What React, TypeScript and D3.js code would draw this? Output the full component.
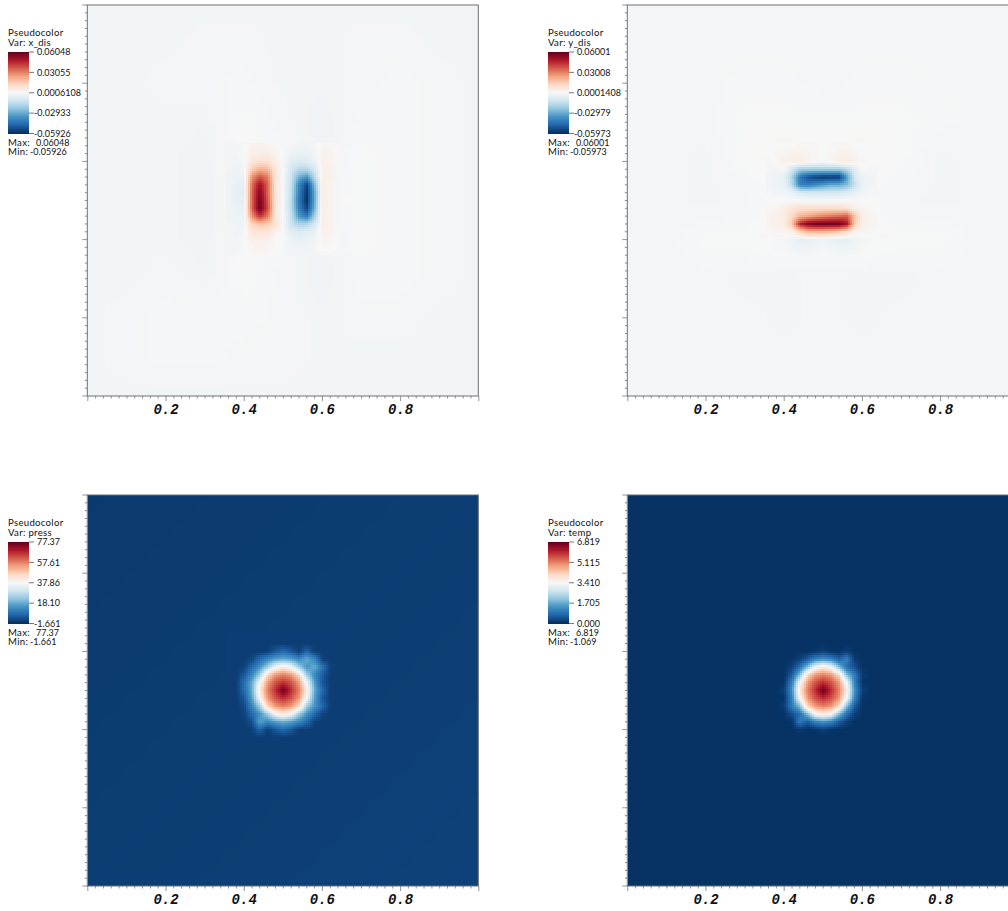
import React from "react";
import * as d3 from "d3";

const xTickLabels = [0.2, 0.4, 0.6, 0.8];
const tickValues = d3.range(0, 51).map((i) => i * 0.02);
const fineAxis = [0.36, 0.38, 0.4, 0.42, 0.44, 0.46, 0.48, 0.5, 0.52, 0.54, 0.56, 0.58, 0.6, 0.62, 0.64];
const coarseAxis = [0, 0.1, 0.2, 0.3, 0.4, 0.5, 0.6, 0.7, 0.8, 0.9, 1];
const rdbuStops = ["#053061", "#2166ac", "#4393c3", "#92c5de", "#d1e5f0", "#f7f7f7", "#fddbc7", "#f4a582", "#d6604d", "#b2182b", "#67001f"];

// All in units of 1e-3
const xDisFine = [
  [-1, -1, 0, 3, 3, 3, 1, 0, -1, -2, -2, -1, 2, 2, 1],
  [-1, -1, 0, 4, 5, 5, 2, 0, -3, -4, -4, -2, 3, 3, 1],
  [-1, -2, 0, 8, 10, 10, 5, 0, -6, -8, -7, -3, 4, 3, 1],
  [-1, -3, -1, 15, 22, 20, 8, 0, -10, -16, -16, -10, 4, 4, 1],
  [-2, -3, -3, 28, 38, 32, 8, 0, -12, -28, -35, -16, 4, 4, 1],
  [-2, -4, -5, 34, 52, 36, 8, 0, -13, -38, -55, -26, 4, 3, 1],
  [-2, -4, -6, 36, 56, 36, 8, 0, -14, -40, -58, -30, 4, 3, 1],
  [-2, -4, -5, 36, 59, 38, 8, 0, -15, -42, -59, -30, 5, 3, 1],
  [-2, -3, -4, 36, 60, 40, 8, 0, -15, -40, -55, -28, 5, 3, 1],
  [-2, -3, -3, 28, 44, 32, 8, 0, -13, -34, -42, -20, 4, 3, 1],
  [-1, -2, -2, 14, 18, 16, 10, 0, -12, -18, -18, -10, 4, 3, 1],
  [-1, -2, -1, 8, 8, 8, 3, 0, -6, -8, -6, -3, 3, 3, 1],
  [-1, -1, 0, 4, 4, 4, 1, 0, -3, -4, -3, -2, 2, 2, 0],
  [-1, -1, 0, 2, 3, 2, 1, 0, -2, -2, -2, -1, 1, 1, 0],
  [-1, -1, 0, 1, 2, 1, 0, 0, -1, -1, -1, -1, 0, 0, 0],
];
const xDisCoarse = [
  [-1, -1, -1, -1, -1, -1, -1, -1, -1, -1, -1],
  [-1, -1, -1, -0.5, -0.5, -1, -1, -0.5, -0.5, -1, -1],
  [-1, -1, -0.5, -0.5, 0, -1, -1, -0.5, 0, -0.5, -1],
  [-1, -1, -1, -1, 0.5, -0.5, -1.5, 0, 0, -0.5, -1],
  [-1, -1, -1, -1.5, 1, 0, -1.5, 0.5, 0, -0.5, -1],
  [-1, -1, -1, -1.5, 0, 0, 0, 0.5, 0, -0.5, -1],
  [-1, -1, -1, -1.5, 1, 0, -1.5, 0.5, 0, -0.5, -1],
  [-1, -1, -0.5, -1, 0.5, -0.5, -1.5, 0, 0, -0.5, -1],
  [-1, -0.5, 0, 0, 0, -0.5, -1, -0.5, -0.5, -1, -1],
  [-1, -0.5, 0, 0, -0.5, -0.5, -1, -1, -1, -1, -1],
  [-1, -1, -1, -1, -1, -1, -1, -1, -1, -1, -1],
];
const yDisFine = [
  [0, 0, 0, 0, 1, 1, 1, 0, 1, 1, 1, 0, 0, 0, 0],
  [0, 1, 2, 3, 3, 2, 1, 0, 1, 3, 3, 2, 1, 0, 0],
  [-1, 1, 3, 4, 5, 3, 1, 0, 2, 4, 5, 3, 1, 0, 0],
  [-1, -2, -1, -10, -20, -20, -20, -20, -20, -20, -16, -8, 0, -1, -1],
  [-2, -3, -5, -18, -42, -52, -56, -58, -58, -58, -34, -10, -4, -2, -1],
  [-2, -3, -4, -16, -40, -42, -38, -34, -30, -30, -26, -14, -4, -2, -1],
  [-1, -2, -2, -4, -8, -10, -10, -10, -10, -10, -8, -5, -2, -1, -1],
  [0, 0, 0, 0, 0, 0, 0, 0, 0, 0, 0, 0, 0, 0, 0],
  [1, 2, 4, 8, 10, 10, 10, 10, 10, 10, 9, 4, 2, 1, 0],
  [2, 3, 5, 12, 20, 24, 27, 30, 32, 34, 36, 18, 4, 2, 1],
  [2, 3, 4, 16, 46, 55, 58, 58, 58, 58, 50, 16, 4, 2, 1],
  [1, 2, 2, 3, 12, 20, 20, 20, 18, 16, 10, 3, 1, 1, 0],
  [0, -1, -1, -3, -5, -5, -4, -3, -4, -5, -5, -3, -1, -1, 0],
  [0, -1, -1, -2, -3, -3, -2, -1, -2, -3, -3, -2, -1, 0, 0],
  [0, 0, 0, -1, -1, -1, -1, 0, -1, -1, -1, -1, 0, 0, 0],
];
const yDisCoarse = [
  [-1, -1, -1, -1, -1, -1, -1, -1, -1, -1, -1],
  [-1, -1, -1, -1, -1, -1, -1, -1, -1, -1, -1],
  [-1, -1, -1, -0.5, -0.5, -1, -0.5, -0.5, -1, -1, -1],
  [-1, -1, -1, 0, 0, 0, 0, 0, -0.5, -1, -1],
  [-1, -1, -1.5, 0, 1, 0, 1, 0, -1.5, -1, -1],
  [-1, -1, -1.5, -1, 0, 0, 0, -1, -1.5, -1, -1],
  [-1, -1, 0, 0, 1, 0, 1, 0, 0, -1, -1],
  [-1, -1, -1, -1.5, -1.5, -1, -1.5, -1.5, -1, -1, -1],
  [-1, -1, -1, -1, -1.5, -1, -1.5, -1, -1, -1, -1],
  [-1, -1, -1, -1, -1, -1, -1, -1, -1, -1, -1],
  [-1, -1, -1, -1, -1, -1, -1, -1, -1, -1, -1],
];
const pressFine = [
  [0.3, 0.3, 0.3, 0.3, 0.3, 0.3, 0.3, 0.3, 0.3, 0.3, 0.3, 0.3, 0.3, 0.3, 0.3],
  [0.3, 0.3, 0.3, 0.3, 0.3, 0.3, 0.3, 0.3, 0.3, 0.3, 0.3, 0.3, 0.3, 0.3, 0.3],
  [0.3, 0.3, 0.3, 0.3, 0.3, 0.5, 4, 7, 4, 0.5, 6, 0.5, 0.3, 0.3, 0.3],
  [0.3, 0.3, 0.3, 1.5, 7, 12, 16, 18, 16, 12, 18, 12, 1, 0.3, 0.3],
  [0.3, 0.3, 1, 7, 14, 24, 37, 42, 37, 24, 14, 18, 9, 1, 0.3],
  [0.3, 0.3, 4, 12, 24, 46, 55, 58, 55, 46, 24, 12, 5, 0.3, 0.3],
  [0.3, 0.3, 8, 18, 37, 55, 63, 67, 63, 55, 37, 16, 4, 0.3, 0.3],
  [0.3, 0.3, 7, 18, 42, 58, 67, 77, 67, 58, 42, 18, 7, 0.3, 0.3],
  [0.3, 0.3, 4, 16, 37, 55, 63, 67, 63, 55, 37, 16, 4, 0.3, 0.3],
  [0.3, 0.3, 2, 12, 24, 46, 55, 58, 55, 46, 24, 14, 7, 0.3, 0.3],
  [0.3, 0.3, 1, 7, 14, 24, 37, 42, 37, 24, 14, 7, 1, 0.3, 0.3],
  [0.3, 0.3, 0.5, 3, 16, 12, 16, 18, 16, 12, 7, 1, 0.3, 0.3, 0.3],
  [0.3, 0.3, 0.3, 0.5, 6, 0.5, 4, 7, 4, 0.5, 0.5, 0.3, 0.3, 0.3, 0.3],
  [0.3, 0.3, 0.3, 0.3, 0.3, 0.3, 0.3, 0.3, 0.3, 0.3, 0.3, 0.3, 0.3, 0.3, 0.3],
  [0.3, 0.3, 0.3, 0.3, 0.3, 0.3, 0.3, 0.3, 0.3, 0.3, 0.3, 0.3, 0.3, 0.3, 0.3],
];
const pressCoarse = [
  [-0.3, -0.24, -0.18, -0.12, -0.06, 0, 0.06, 0.12, 0.18, 0.24, 0.3],
  [-0.24, -0.18, -0.12, -0.06, 0, 0.06, 0.12, 0.18, 0.24, 0.3, 0.36],
  [-0.18, -0.12, -0.06, 0, 0.06, 0.12, 0.18, 0.24, 0.3, 0.36, 0.42],
  [-0.12, -0.06, 0, 0.06, 0.12, 0.18, 0.24, 0.3, 0.36, 0.42, 0.48],
  [-0.06, 0, 0.06, 0.12, 0.18, 0.24, 0.3, 0.36, 0.42, 0.48, 0.54],
  [0, 0.06, 0.12, 0.18, 0.24, 0.3, 0.36, 0.42, 0.48, 0.54, 0.6],
  [0.06, 0.12, 0.18, 0.24, 0.3, 0.36, 0.42, 0.48, 0.54, 0.6, 0.66],
  [0.12, 0.18, 0.24, 0.3, 0.36, 0.42, 0.48, 0.54, 0.6, 0.66, 0.72],
  [0.18, 0.24, 0.3, 0.36, 0.42, 0.48, 0.54, 0.6, 0.66, 0.72, 0.78],
  [0.24, 0.3, 0.36, 0.42, 0.48, 0.54, 0.6, 0.66, 0.72, 0.78, 0.84],
  [0.3, 0.36, 0.42, 0.48, 0.54, 0.6, 0.66, 0.72, 0.78, 0.84, 0.9],
];
const tempFine = [
  [0.03, 0.03, 0.03, 0.03, 0.03, 0.03, 0.03, 0.03, 0.03, 0.03, 0.03, 0.03, 0.03, 0.03, 0.03],
  [0.03, 0.03, 0.03, 0.03, 0.03, 0.03, 0.03, 0.03, 0.03, 0.03, 0.03, 0.03, 0.03, 0.03, 0.03],
  [0.03, 0.03, 0.03, 0.03, 0.03, 0.03, 0.05, 0.2, 0.05, 0.03, 0.15, 0.03, 0.03, 0.03, 0.03],
  [0.03, 0.03, 0.03, 0.05, 0.2, 0.55, 1.1, 1.3, 1.1, 0.6, 1.1, 0.15, 0.03, 0.03, 0.03],
  [0.03, 0.03, 0.03, 0.2, 0.8, 1.95, 3.35, 3.75, 3.35, 1.95, 0.8, 0.4, 0.03, 0.03, 0.03],
  [0.03, 0.03, 0.03, 0.55, 1.95, 4.1, 4.9, 5.15, 4.9, 4.1, 1.95, 1.0, 0.15, 0.03, 0.03],
  [0.03, 0.03, 0.05, 1.1, 3.35, 4.9, 5.6, 5.95, 5.6, 4.9, 3.35, 1.1, 0.05, 0.03, 0.03],
  [0.03, 0.03, 0.2, 1.3, 3.75, 5.15, 5.95, 6.82, 5.95, 5.15, 3.75, 1.3, 0.2, 0.03, 0.03],
  [0.03, 0.03, 0.05, 1.1, 3.35, 4.9, 5.6, 5.95, 5.6, 4.9, 3.35, 1.1, 0.05, 0.03, 0.03],
  [0.03, 0.03, 0.15, 1.0, 1.95, 4.1, 4.9, 5.15, 4.9, 4.1, 1.95, 0.55, 0.03, 0.03, 0.03],
  [0.03, 0.03, 0.03, 0.4, 0.8, 1.95, 3.35, 3.75, 3.35, 1.95, 0.8, 0.2, 0.03, 0.03, 0.03],
  [0.03, 0.03, 0.03, 0.05, 1.0, 0.55, 1.1, 1.3, 1.1, 0.55, 0.2, 0.03, 0.03, 0.03, 0.03],
  [0.03, 0.03, 0.03, 0.03, 0.1, 0.03, 0.05, 0.2, 0.05, 0.03, 0.03, 0.03, 0.03, 0.03, 0.03],
  [0.03, 0.03, 0.03, 0.03, 0.03, 0.03, 0.03, 0.03, 0.03, 0.03, 0.03, 0.03, 0.03, 0.03, 0.03],
  [0.03, 0.03, 0.03, 0.03, 0.03, 0.03, 0.03, 0.03, 0.03, 0.03, 0.03, 0.03, 0.03, 0.03, 0.03],
];
const tempCoarse = [
  [0.03, 0.03, 0.03],
  [0.03, 0.03, 0.03],
  [0.03, 0.03, 0.03],
];
const tempAxis = [0, 0.5, 1];

const xDisLabels = ["0.06048", "0.03055", "0.0006108", "-0.02933", "-0.05926"];
const yDisLabels = ["0.06001", "0.03008", "0.0001408", "-0.02979", "-0.05973"];
const pressLabels = ["77.37", "57.61", "37.86", "18.10", "-1.661"];
const tempLabels = ["6.819", "5.115", "3.410", "1.705", "0.000"];

const FONT = "Lato, 'Noto Sans', sans-serif";
const PLOT_SIZE = 391;

const colorT = d3
  .scaleLinear<string>()
  .domain(rdbuStops.map((_, i) => i / 10))
  .range(rdbuStops)
  .interpolate(d3.interpolateRgb)
  .clamp(true);

function sample(axis: number[], table: number[][], x: number, y: number) {
  const fy = 1 - y; // table rows run from the top of the plot
  const n = axis.length - 1;
  const cx = Math.min(n - 1, Math.max(0, d3.bisectRight(axis, x) - 1));
  const cy = Math.min(n - 1, Math.max(0, d3.bisectRight(axis, fy) - 1));
  const u = (x - axis[cx]) / (axis[cx + 1] - axis[cx]);
  const v = (fy - axis[cy]) / (axis[cy + 1] - axis[cy]);
  const top = table[cy][cx] * (1 - u) + table[cy][cx + 1] * u;
  const bot = table[cy + 1][cx] * (1 - u) + table[cy + 1][cx + 1] * u;
  return top * (1 - v) + bot * v;
}

type PanelProps = {
  left: number;
  top: number;
  variable: string;
  labels: string[];
  max: string;
  min: string;
  domain: [number, number];
  coarse: number[][];
  coarseAxisValues: number[];
  fine: number[][];
};

function Panel({ left, top, variable, labels, max, min, domain, coarse, coarseAxisValues, fine }: PanelProps) {
  const x = d3.scaleLinear().domain([0, 1]).range([left + 0.8, left + 0.8 + PLOT_SIZE]);
  const y = d3.scaleLinear().domain([0, 1]).range([top + PLOT_SIZE, top]);
  const toT = d3.scaleLinear().domain(domain).range([0, 1]);
  const fineLo = fineAxis[0];
  const fineHi = fineAxis[fineAxis.length - 1];
  const valueAt = (u: number, v: number) => {
    const inFine = u >= fineLo && u <= fineHi && v >= fineLo && v <= fineHi;
    return inFine ? sample(fineAxis, fine, u, v) : sample(coarseAxisValues, coarse, u, v);
  };
  const tiles: React.ReactElement[] = [];
  const paint = (px: number, py: number, size: number, key: string) => {
    const u = x.invert(px + size / 2);
    const v = y.invert(py + size / 2);
    tiles.push(<rect key={key} x={px} y={py} width={size} height={size} fill={colorT(toT(valueAt(u, v)))} />);
  };
  const x0 = Math.round(x(0));
  const y0 = top;
  const outer = 6;
  for (let i = 0; i * outer < PLOT_SIZE; i++) {
    for (let j = 0; j * outer < PLOT_SIZE; j++) {
      paint(x0 + i * outer, y0 + j * outer, outer, `o${i}-${j}`);
    }
  }
  const fx0 = Math.floor(x(fineLo));
  const fx1 = Math.ceil(x(fineHi));
  const fy0 = Math.floor(y(fineHi));
  const fy1 = Math.ceil(y(fineLo));
  for (let px = fx0; px < fx1; px += 2) {
    for (let py = fy0; py < fy1; py += 2) paint(px, py, 2, `f${px}-${py}`);
  }

  const barX = left - 79;
  const barTop = top + 47;
  const barH = 81.5;
  const barRows = d3.range(0, Math.ceil(barH));
  const ticks = labels.map((_, i) => barTop + (i * barH) / 4);

  return (
    <g>
      <clipPath id={`clip-${variable}`}>
        <rect x={x(0) - 0.5} y={top} width={PLOT_SIZE} height={PLOT_SIZE} />
      </clipPath>
      <g clipPath={`url(#clip-${variable})`} shapeRendering="crispEdges">
        {tiles}
      </g>
      <rect x={x(0) - 0.5} y={top} width={PLOT_SIZE} height={PLOT_SIZE} fill="none" stroke="#6f6f6f" strokeWidth={1} />
      {tickValues.map((t, i) => {
        const major = i % 10 === 0;
        return (
          <g key={t} stroke="#777" strokeWidth={0.8}>
            <line x1={x(t)} x2={x(t)} y1={top + PLOT_SIZE} y2={top + PLOT_SIZE + (major ? 5 : 2.5)} />
            <line x1={x(0) - 0.5} x2={x(0) - 0.5 - (major ? 5 : 2.5)} y1={y(t)} y2={y(t)} />
          </g>
        );
      })}
      {xTickLabels.map((t) => (
        <text
          key={t}
          x={x(t)}
          y={top + PLOT_SIZE + 18}
          textAnchor="middle"
          fontFamily="'Liberation Mono', monospace"
          fontWeight="bold"
          fontStyle="italic"
          fontSize={14}
          fill="#111"
        >
          {t.toFixed(1)}
        </text>
      ))}
      <g fontFamily={FONT} fontSize={9.6} letterSpacing={0.3} fill="#111">
        <text x={barX} y={top + 31}>Pseudocolor</text>
        <text x={barX} y={top + 41}>Var: {variable}</text>
        {barRows.map((r) => (
          <rect
            key={r}
            x={barX}
            y={barTop + r}
            width={21}
            height={1.2}
            fill={colorT(1 - r / (barH - 1))}
            shapeRendering="crispEdges"
          />
        ))}
        {labels.map((l, i) => (
          <g key={l}>
            <line x1={barX + 21} x2={barX + 26} y1={ticks[i]} y2={ticks[i]} stroke="#555" strokeWidth={0.8} />
            <text fontSize={9} letterSpacing={0} x={barX + (l.startsWith("-") ? 26 : 29)} y={ticks[i] + 3.2}>{l}</text>
          </g>
        ))}
        <text x={barX} y={barTop + barH + 12}>Max:</text>
        <text fontSize={9} letterSpacing={0} x={barX + 28} y={barTop + barH + 12}>{max}</text>
        <text x={barX} y={barTop + barH + 21.5}>Min:</text>
        <text fontSize={9} letterSpacing={0} x={barX + 22} y={barTop + barH + 21.5}>{min}</text>
      </g>
    </g>
  );
}

export default function App() {
  return (
    <svg
      width={1008}
      height={911}
      viewBox="0 0 1008 911"
      style={{ position: "absolute", left: 0, top: 0, background: "#fff", overflow: "hidden" }}
    >
      <Panel left={87} top={5} variable="x_dis" labels={xDisLabels} max="0.06048" min="-0.05926"
        domain={[-59.26, 60.48]} coarse={xDisCoarse} coarseAxisValues={coarseAxis} fine={xDisFine} />
      <Panel left={627} top={5} variable="y_dis" labels={yDisLabels} max="0.06001" min="-0.05973"
        domain={[-59.73, 60.01]} coarse={yDisCoarse} coarseAxisValues={coarseAxis} fine={yDisFine} />
      <Panel left={87} top={495} variable="press" labels={pressLabels} max="77.37" min="-1.661"
        domain={[-1.661, 77.37]} coarse={pressCoarse} coarseAxisValues={coarseAxis} fine={pressFine} />
      <Panel left={627} top={495} variable="temp" labels={tempLabels} max="6.819" min="-1.069"
        domain={[0, 6.819]} coarse={tempCoarse} coarseAxisValues={tempAxis} fine={tempFine} />
    </svg>
  );
}
